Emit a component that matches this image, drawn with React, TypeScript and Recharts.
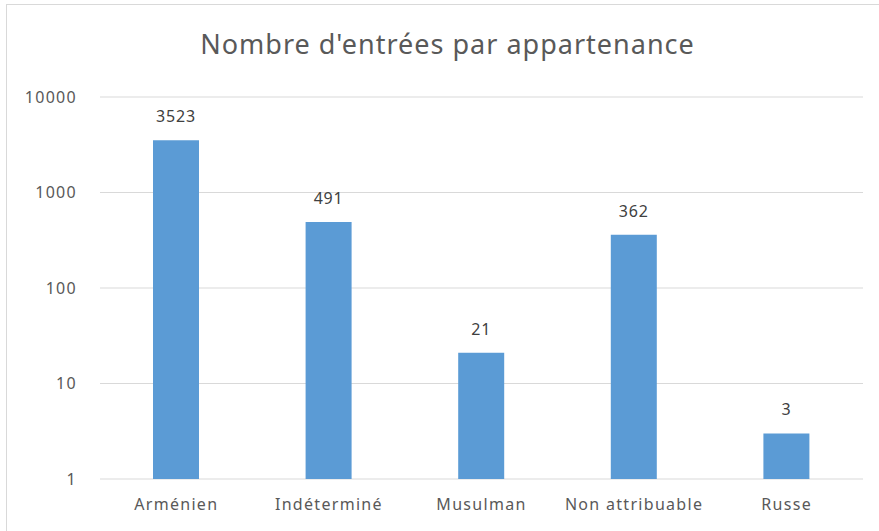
import { BarChart, Bar, XAxis, YAxis, CartesianGrid, LabelList } from "recharts"

const categories = ["Arménien", "Indéterminé", "Musulman", "Non attribuable", "Russe"]
const entrees = [3523, 491, 21, 362, 3]
const yTicks = [1, 10, 100, 1000, 10000]

const data = categories.map((name, i) => ({ name, value: entrees[i] }))

const FONT = "'Noto Sans', 'Open Sans', sans-serif"

export default function App() {
  return (
    <div style={{ position: "absolute", left: 0, top: 0, width: 879, height: 531, background: "#fff", overflow: "hidden", fontFamily: FONT }}>
      {/* light frame, only top + left visible in the crop */}
      <div
        style={{
          position: "absolute",
          left: 6,
          top: 4,
          width: 900,
          height: 600,
          borderTop: "1px solid #d9d9d9",
          borderLeft: "1px solid #d9d9d9",
        }}
      />
      <div
        style={{
          position: "absolute",
          left: 8,
          width: 879,
          top: 25,
          textAlign: "center",
          fontSize: 27,
          letterSpacing: 1,
          color: "#595959",
        }}
      >
        Nombre d'entrées par appartenance
      </div>
      <div style={{ position: "absolute", left: 0, top: 0 }}>
        <BarChart width={879} height={531} data={data} margin={{ top: 97, right: 16, bottom: 22, left: 0 }}>
          <CartesianGrid vertical={false} stroke="#d9d9d9" />
          <XAxis
            dataKey="name"
            axisLine={false}
            tickLine={false}
            tick={{ fill: "#595959", fontSize: 16, fontFamily: FONT, letterSpacing: 1.3 }}
            tickMargin={14}
          />
          <YAxis
            scale="log"
            domain={[1, 10000]}
            ticks={yTicks}
            axisLine={false}
            tickLine={false}
            width={100}
            tickMargin={17}
            tick={{ fill: "#595959", fontSize: 16, fontFamily: FONT, letterSpacing: 1.3 }}
          />
          <Bar dataKey="value" fill="#5b9bd5" barSize={46} isAnimationActive={false}>
            <LabelList
              dataKey="value"
              position="top"
              offset={18}
              fill="#404040"
              fontSize={16}
              fontFamily={FONT}
              style={{ letterSpacing: 0.8 }}
            />
          </Bar>
        </BarChart>
      </div>
    </div>
  )
}
